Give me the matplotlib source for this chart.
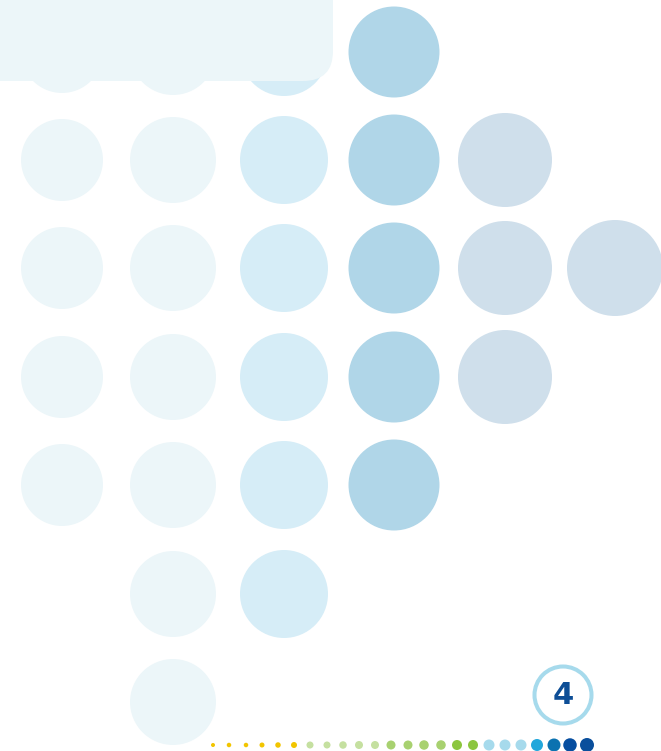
import matplotlib
matplotlib.use("Agg")
import matplotlib.pyplot as plt
from matplotlib.patches import Circle, FancyBboxPatch

# Grid of decorative circles
col_x = [62, 173, 284, 394, 505, 615]
row_y = [52, 160, 268, 377, 485, 594, 702]
col_radius = [41, 43, 44, 45.5, 47, 48]
col_rows = [[0, 1, 2, 3, 4], [0, 1, 2, 3, 4, 5, 6], [0, 1, 2, 3, 4, 5],
            [0, 1, 2, 3, 4], [1, 2, 3], [2]]
col_colors = ["#ECF6F9", "#ECF6F9", "#D6EDF7", "#B0D6E8", "#CFDFEB", "#CFDFEB"]

# Bottom dotted strip
dot_x = [213, 229, 246, 262, 278, 294, 310, 327, 343, 359, 375, 391,
         408, 424, 441, 457, 473, 489, 505, 521, 537, 554, 570, 587]
dot_d = [4, 4.5, 4.5, 5, 5.5, 6, 7, 7, 7.5, 8, 8, 9,
         9, 9.5, 9.5, 10, 10, 11, 11, 11, 12, 13, 13.5, 14]
dot_colors = ["#F2C500"] * 6 + ["#C5E0A0"] * 5 + ["#A8D170"] * 4 + \
             ["#8CC63F"] * 2 + ["#A6DAEC"] * 3 + ["#22A7DB", "#0B72B0", "#064EA0", "#0A4F9C"]
dot_y = 745

page_number = "4"

W, H = 661, 751
fig = plt.figure(figsize=(W / 100, H / 100), dpi=100)
ax = fig.add_axes([0, 0, 1, 1])
ax.set_xlim(0, W)
ax.set_ylim(H, 0)
ax.set_aspect("equal")
ax.axis("off")

for cx, r, rows, c in zip(col_x, col_radius, col_rows, col_colors):
    for ri in rows:
        ax.add_patch(Circle((cx, row_y[ri]), r, facecolor=c, edgecolor="none", zorder=1))

ax.add_patch(FancyBboxPatch((-40, -40), 373, 121,
                            boxstyle="round,pad=0,rounding_size=30",
                            facecolor="#ECF6F9", edgecolor="none", zorder=2))

for x, d, c in zip(dot_x, dot_d, dot_colors):
    ax.add_patch(Circle((x, dot_y), d / 2, facecolor=c, edgecolor="none", zorder=3))

ax.add_patch(Circle((563, 695), 28.5, facecolor="white", edgecolor="#A6DAEC",
                    linewidth=2.9, zorder=3))
ax.text(563, 696, page_number, ha="center", va="center", fontsize=22,
        fontweight="bold", color="#0D4E96", zorder=4)

fig.savefig("out.png", dpi=100)
